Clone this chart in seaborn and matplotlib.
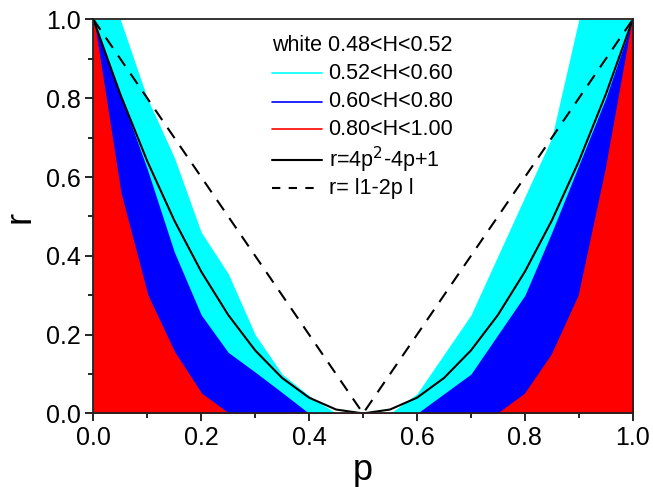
import matplotlib
matplotlib.use("Agg")
import matplotlib.pyplot as plt
import seaborn as sns
import pandas as pd
from matplotlib.ticker import MultipleLocator

# ---- data ----
p = [0.00, 0.05, 0.10, 0.15, 0.20, 0.25, 0.30, 0.35, 0.40, 0.45, 0.50,
     0.55, 0.60, 0.65, 0.70, 0.75, 0.80, 0.85, 0.90, 0.95, 1.00]
cyan_edge = [1.00, 1.00, 0.80, 0.65, 0.46, 0.355, 0.20, 0.10, 0.045, 0.00, 0.00,
             0.00, 0.05, 0.15, 0.25, 0.40, 0.55, 0.70, 1.00, 1.00, 1.00]
blue_edge = [1.00, 0.81, 0.62, 0.41, 0.25, 0.155, 0.105, 0.053, 0.00, 0.00, 0.00,
             0.00, 0.00, 0.05, 0.10, 0.20, 0.30, 0.46, 0.63, 0.80, 1.00]
red_edge = [1.00, 0.56, 0.30, 0.155, 0.05, 0.00, 0.00, 0.00, 0.00, 0.00, 0.00,
            0.00, 0.00, 0.00, 0.00, 0.00, 0.05, 0.15, 0.30, 0.62, 1.00]
r_quad = [1.00, 0.81, 0.64, 0.49, 0.36, 0.25, 0.16, 0.09, 0.04, 0.01, 0.00,
          0.01, 0.04, 0.09, 0.16, 0.25, 0.36, 0.49, 0.64, 0.81, 1.00]
r_abs = [1.00, 0.90, 0.80, 0.70, 0.60, 0.50, 0.40, 0.30, 0.20, 0.10, 0.00,
         0.10, 0.20, 0.30, 0.40, 0.50, 0.60, 0.70, 0.80, 0.90, 1.00]

legend_labels = ["0.52<H<0.60", "0.60<H<0.80", "0.80<H<1.00",
                 "r=4p$^2$-4p+1", "r= l1-2p l"]
white_label = "white 0.48<H<0.52"
x_ticks = [0.0, 0.2, 0.4, 0.6, 0.8, 1.0]
y_ticks = [0.0, 0.2, 0.4, 0.6, 0.8, 1.0]

df = pd.DataFrame({"p": p, "quad": r_quad, "abs": r_abs})

sns.set_theme(style="ticks")
plt.rcParams["font.family"] = ["Liberation Sans", "DejaVu Sans"]

fig = plt.figure(figsize=(6.53, 4.87), dpi=100)
ax = fig.add_axes([0.143, 0.151, 0.826, 0.809])

ax.fill_between(p, 0, cyan_edge, color="#00FFFF", linewidth=0, zorder=1)
ax.fill_between(p, 0, blue_edge, color="#0000FF", linewidth=0, zorder=2)
ax.fill_between(p, 0, red_edge, facecolor="#FF0000", edgecolor="#FF0000",
                linewidth=1.0, zorder=3)

sns.lineplot(data=df, x="p", y="quad", color="black", linewidth=1.5, ax=ax, zorder=5)
sns.lineplot(data=df, x="p", y="abs", color="black", linewidth=1.5, ax=ax, zorder=5,
             dashes=False)
ax.lines[-1].set_dashes([6, 4.5])

ax.set_xlim(0, 1)
ax.set_ylim(0, 1)
ax.set_xticks(x_ticks)
ax.set_yticks(y_ticks)
ax.set_xticklabels([f"{v:.1f}" for v in x_ticks])
ax.set_yticklabels([f"{v:.1f}" for v in y_ticks])
ax.xaxis.set_minor_locator(MultipleLocator(0.1))
ax.yaxis.set_minor_locator(MultipleLocator(0.1))
ax.tick_params(axis="both", which="major", direction="out", length=6, width=1.2,
               labelsize=18, color="black", labelcolor="black", pad=3,
               top=False, right=False)
ax.tick_params(axis="both", which="minor", direction="out", length=3.5, width=1.2,
               color="black", top=False, right=False)
for s in ax.spines.values():
    s.set_visible(True)
    s.set_linewidth(1.3)
    s.set_color("#222222")
    s.set_zorder(10)

ax.set_xlabel("p", fontsize=26, labelpad=2, color="black")
ax.set_ylabel("r", fontsize=26, labelpad=6, color="black")

# ---- legend drawn manually to reproduce the "white" row ----
tr = ax.transAxes
hx0, hx1, tx = 0.331, 0.424, 0.436
rows_y = [0.935, 0.864, 0.791, 0.721, 0.643, 0.571]
fs = 15.5
ax.text(hx0, rows_y[0], white_label, transform=tr, fontsize=fs, va="center",
        ha="left", color="black", zorder=12)
styles = [dict(color="#00FFFF", lw=1.2), dict(color="#0000FF", lw=1.2),
          dict(color="#FF0000", lw=1.2), dict(color="black", lw=1.5),
          dict(color="black", lw=1.5, dashes=[4, 4])]
for y, lab, st in zip(rows_y[1:], legend_labels, styles):
    ax.plot([hx0, hx1], [y, y], transform=tr, zorder=12, clip_on=False, **st)
    ax.text(tx, y, lab, transform=tr, fontsize=fs, va="center", ha="left",
            color="black", zorder=12)

fig.savefig("out.png", dpi=100)
